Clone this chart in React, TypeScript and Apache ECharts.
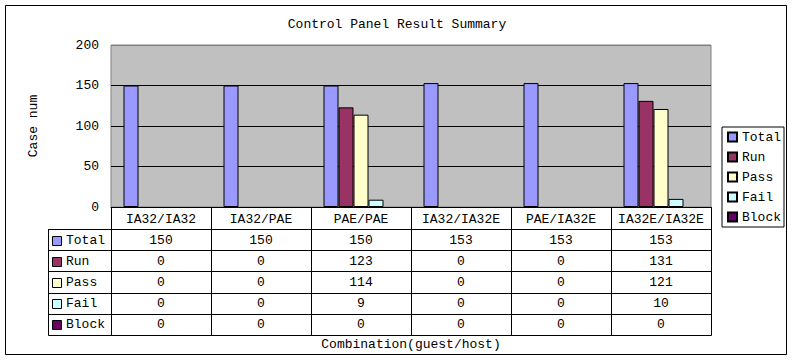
import React, { useEffect, useRef } from "react";
import * as echarts from "echarts";

const categories = ["IA32/IA32", "IA32/PAE", "PAE/PAE", "IA32/IA32E", "PAE/IA32E", "IA32E/IA32E"];
const seriesNames = ["Total", "Run", "Pass", "Fail", "Block"];
const totalValues = [150, 150, 150, 153, 153, 153];
const runValues = [0, 0, 123, 0, 0, 131];
const passValues = [0, 0, 114, 0, 0, 121];
const failValues = [0, 0, 9, 0, 0, 10];
const blockValues = [0, 0, 0, 0, 0, 0];
const seriesColors = ["#9999FF", "#993366", "#FFFFCC", "#CCFFFF", "#660066"];
const yMax = 200;
const yInterval = 50;

const FONT = "Liberation Mono";

export default function App() {
  const ref = useRef<HTMLDivElement>(null);
  useEffect(() => {
    if (!ref.current) return;
    const chart = echarts.init(ref.current, null, { renderer: "svg" });
    const allValues = [totalValues, runValues, passValues, failValues, blockValues];

    const gridLeft = 111;
    const gridTop = 45;
    const gridWidth = 600;
    const gridHeight = 162;
    const gridBottomY = gridTop + gridHeight;
    const colW = gridWidth / categories.length;
    const tableLeft = 48;
    const headRowBottom = 229;
    const rowH = 21.2;
    const tableRight = gridLeft + gridWidth;
    const tableBottom = headRowBottom + rowH * seriesNames.length;

    const graphics: any[] = [];
    graphics.push({
      type: "rect",
      z: -10,
      shape: { x: 5.5, y: 5.5, width: 781, height: 349 },
      style: { fill: "#fff", stroke: "#000", lineWidth: 1 },
    });
    const lineStyle = { stroke: "#000", lineWidth: 1 };
    graphics.push({
      type: "line",
      shape: { x1: gridLeft, y1: headRowBottom + 0.5, x2: tableRight + 0.5, y2: headRowBottom + 0.5 },
      style: lineStyle,
    });
    for (let r = 0; r <= seriesNames.length; r++) {
      const y = Math.round(headRowBottom + rowH * r) + 0.5;
      graphics.push({
        type: "line",
        shape: { x1: tableLeft + 0.5, y1: y, x2: tableRight + 0.5, y2: y },
        style: lineStyle,
      });
    }
    graphics.push({
      type: "line",
      shape: { x1: tableLeft + 0.5, y1: headRowBottom, x2: tableLeft + 0.5, y2: Math.round(tableBottom) + 0.5 },
      style: lineStyle,
    });
    for (let c = 0; c <= categories.length; c++) {
      const x = Math.round(gridLeft + colW * c) + 0.5;
      graphics.push({
        type: "line",
        shape: { x1: x, y1: gridBottomY, x2: x, y2: Math.round(tableBottom) + 0.5 },
        style: lineStyle,
      });
    }
    seriesNames.forEach((name, r) => {
      const cy = headRowBottom + rowH * (r + 0.5) + 0.5;
      graphics.push({
        type: "rect",
        shape: { x: 52.5, y: Math.round(cy - 4.5) + 0.5, width: 9, height: 9 },
        style: { fill: seriesColors[r], stroke: "#000", lineWidth: 1 },
      });
      graphics.push({
        type: "text",
        x: 66,
        y: cy,
        style: { text: name, fontFamily: FONT, fontSize: 13, fill: "#000", verticalAlign: "middle", align: "left" },
      });
      allValues[r].forEach((v, c) => {
        graphics.push({
          type: "text",
          x: gridLeft + colW * (c + 0.5),
          y: cy,
          style: { text: String(v), fontFamily: FONT, fontSize: 13, fill: "#000", verticalAlign: "middle", align: "center" },
        });
      });
    });

    chart.setOption({
      animation: false,
      backgroundColor: "#fff",
      textStyle: { fontFamily: FONT },
      title: {
        text: "Control Panel Result Summary",
        left: "center",
        top: 13,
        textStyle: { fontFamily: FONT, fontSize: 13, fontWeight: "normal", color: "#000" },
      },
      grid: {
        left: gridLeft,
        top: gridTop,
        width: gridWidth,
        height: gridHeight,
        show: true,
        backgroundColor: "#C0C0C0",
        borderColor: "#808080",
        borderWidth: 1,
      },
      legend: {
        data: seriesNames,
        orient: "vertical",
        left: 722,
        top: 127,
        borderColor: "#000",
        borderWidth: 1,
        padding: [3, 3, 3, 5],
        itemWidth: 9,
        itemHeight: 9,
        itemGap: 6,
        icon: "rect",
        textStyle: { fontFamily: FONT, fontSize: 13, color: "#000", lineHeight: 14 },
      },
      xAxis: {
        type: "category",
        data: categories,
        axisTick: { show: false },
        axisLine: { lineStyle: { color: "#000", width: 1 } },
        axisLabel: { margin: 6, fontFamily: FONT, fontSize: 13, color: "#000", interval: 0 },
        name: "Combination(guest/host)",
        nameLocation: "middle",
        nameGap: 131,
        nameTextStyle: { fontFamily: FONT, fontSize: 13, color: "#000" },
      },
      yAxis: {
        type: "value",
        min: 0,
        max: yMax,
        interval: yInterval,
        axisLine: { show: false },
        axisTick: { show: false },
        axisLabel: { margin: 12, fontFamily: FONT, fontSize: 13, color: "#000" },
        splitLine: { lineStyle: { color: ["#000", "#000", "#000", "#000", "#808080"], width: 1 } },
        name: "Case num",
        nameLocation: "middle",
        nameGap: 71,
        nameRotate: 90,
        nameTextStyle: { fontFamily: FONT, fontSize: 13, color: "#000" },
      },
      series: seriesNames.map((name, i) => ({
        name,
        type: "bar",
        data: allValues[i].map((v) => (v === 0 ? null : v)),
        barWidth: 15,
        barGap: "0%",
        itemStyle: { color: seriesColors[i], borderColor: "#000", borderWidth: 1 },
      })),
      graphic: graphics,
    });
    return () => chart.dispose();
  }, []);
  return (
    <div
      ref={ref}
      style={{ position: "absolute", left: 0, top: 0, width: 794, height: 361 }}
    />
  );
}
